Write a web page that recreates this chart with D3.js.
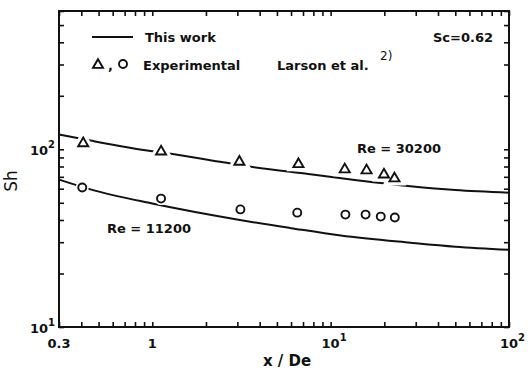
<!DOCTYPE html>
<html>
<head>
<meta charset="utf-8">
<script src="https://cdn.jsdelivr.net/npm/d3@7"></script>
<style>
  body { margin: 0; background: #fff; }
  svg text { font-family: "DejaVu Sans", sans-serif; font-weight: bold; fill: #111; }
  .tick text { display: none; }
</style>
</head>
<body>
<div id="chart"></div>
<script>
// Sh vs x/De, Sc = 0.62

// calculated curves ("This work")
var curveHighX  = [0.3, 0.45, 1, 1.3, 2.5, 3.5, 7.5, 14, 28, 50, 100];
var curveHighSh = [121, 112, 97.5, 94, 84.5, 80, 72.5, 67, 62, 59, 57];
var curveLowX   = [0.3, 0.45, 1, 3.1, 6, 11.4, 28, 50, 100];
var curveLowSh  = [67.5, 59.5, 49.5, 40, 36, 32.7, 29.8, 28.3, 27.2];

// experimental points, Larson et al.
var expHighX  = [0.41, 1.12, 3.08, 6.6, 12.0, 15.9, 19.9, 22.8];
var expHighSh = [108, 97, 85, 82.4, 77, 76, 72, 68.5];
var expLowX   = [0.405, 1.12, 3.12, 6.5, 12.1, 15.7, 19.1, 22.9];
var expLowSh  = [61, 52.8, 45.9, 44.0, 42.9, 42.9, 41.8, 41.3];

// tick labels
var xLabelValues = [0.3, 1, 10, 100];
var xLabelBase   = ["0.3", "1", "10", "10"];
var xLabelSup    = ["", "", "1", "2"];
var yLabelValues = [10, 100];
var yLabelBase   = ["10", "10"];
var yLabelSup    = ["1", "2"];

var width = 528,
    height = 382,
    margin = {top: 11, right: 19, bottom: 55, left: 59},
    chartWidth = width - margin.left - margin.right,
    chartHeight = height - margin.top - margin.bottom;

var svg = d3.select("#chart").append("svg")
    .attr("width", width)
    .attr("height", height);

var chart = svg.append("g")
    .attr("transform", "translate(" + margin.left + "," + margin.top + ")");

var x = d3.scaleLog()
    .domain([0.3, 100])
    .range([0, chartWidth]);

var y = d3.scaleLog()
    .domain([10, 600])
    .range([chartHeight, 0]);

function zip(xs, ys){
  return xs.map(function(d, i){ return {x: d, y: ys[i]}; });
}

// axes: ticks point inward on all four sides
function styleAxis(g){
  g.select(".domain").remove();
  g.selectAll("line").attr("stroke", "#111").attr("stroke-width", 1.6);
}

chart.append("g")
    .attr("transform", "translate(0," + chartHeight + ")")
    .call(d3.axisBottom(x).tickSizeInner(-5).tickSizeOuter(0))
    .call(styleAxis);

chart.append("g")
    .call(d3.axisTop(x).tickSizeInner(-5).tickSizeOuter(0))
    .call(styleAxis);

chart.append("g")
    .call(d3.axisLeft(y).tickSizeInner(-5).tickSizeOuter(0))
    .call(styleAxis);

chart.append("g")
    .attr("transform", "translate(" + chartWidth + ",0)")
    .call(d3.axisRight(y).tickSizeInner(-5).tickSizeOuter(0))
    .call(styleAxis);

chart.append("rect")
    .attr("width", chartWidth)
    .attr("height", chartHeight)
    .attr("fill", "none")
    .attr("stroke", "#111")
    .attr("stroke-width", 2);

// curves
var line = d3.line()
    .x(function(d){ return x(d.x); })
    .y(function(d){ return y(d.y); })
    .curve(d3.curveMonotoneX);

[zip(curveHighX, curveHighSh), zip(curveLowX, curveLowSh)].forEach(function(c){
  chart.append("path")
      .attr("d", line(c))
      .attr("fill", "none")
      .attr("stroke", "#111")
      .attr("stroke-width", 2);
});

// markers, with a white halo so the curve is broken where they sit on it
var tri = d3.symbol().type(d3.symbolTriangle).size(44);

function drawTriangles(pts){
  var g = chart.append("g");
  g.selectAll("path.halo").data(pts).enter().append("path")
      .attr("class", "halo")
      .attr("d", tri)
      .attr("transform", function(d){ return "translate(" + x(d.x) + "," + y(d.y) + ")"; })
      .attr("fill", "#fff").attr("stroke", "#fff").attr("stroke-width", 8);
  g.selectAll("path.mark").data(pts).enter().append("path")
      .attr("class", "mark")
      .attr("d", tri)
      .attr("transform", function(d){ return "translate(" + x(d.x) + "," + y(d.y) + ")"; })
      .attr("fill", "#fff").attr("stroke", "#111").attr("stroke-width", 1.9);
}

function drawCircles(pts){
  var g = chart.append("g");
  g.selectAll("circle.halo").data(pts).enter().append("circle")
      .attr("class", "halo")
      .attr("cx", function(d){ return x(d.x); })
      .attr("cy", function(d){ return y(d.y); })
      .attr("r", 4)
      .attr("fill", "#fff").attr("stroke", "#fff").attr("stroke-width", 5);
  g.selectAll("circle.mark").data(pts).enter().append("circle")
      .attr("class", "mark")
      .attr("cx", function(d){ return x(d.x); })
      .attr("cy", function(d){ return y(d.y); })
      .attr("r", 4)
      .attr("fill", "#fff").attr("stroke", "#111").attr("stroke-width", 1.9);
}

drawTriangles(zip(expHighX, expHighSh));
drawCircles(zip(expLowX, expLowSh));

// tick labels
xLabelValues.forEach(function(v, i){
  svg.append("text")
      .attr("x", margin.left + x(v))
      .attr("y", margin.top + chartHeight + 21)
      .attr("text-anchor", "middle")
      .attr("font-size", 13)
      .text(xLabelBase[i]);
  if(xLabelSup[i]){
    svg.append("text")
        .attr("x", margin.left + x(v) + 9)
        .attr("y", margin.top + chartHeight + 14)
        .attr("font-size", 10)
        .text(xLabelSup[i]);
  }
});

yLabelValues.forEach(function(v, i){
  svg.append("text")
      .attr("x", 48)
      .attr("y", margin.top + y(v) + 6)
      .attr("text-anchor", "end")
      .attr("font-size", 13)
      .text(yLabelBase[i]);
  svg.append("text")
      .attr("x", 48)
      .attr("y", margin.top + y(v) - 1)
      .attr("font-size", 10)
      .text(yLabelSup[i]);
});

// axis titles
svg.append("text")
    .attr("x", 287)
    .attr("y", 366)
    .attr("text-anchor", "middle")
    .attr("font-size", 15)
    .text("x / De");

svg.append("text")
    .attr("transform", "translate(17,181) rotate(-90)")
    .attr("text-anchor", "middle")
    .attr("font-size", 17)
    .style("font-weight", "normal")
    .text("Sh");

// legend
svg.append("line")
    .attr("x1", 92).attr("x2", 133)
    .attr("y1", 37).attr("y2", 37)
    .attr("stroke", "#111").attr("stroke-width", 2);

svg.append("text").attr("x", 145).attr("y", 42).attr("font-size", 13).text("This work");

svg.append("path")
    .attr("d", tri)
    .attr("transform", "translate(98,65)")
    .attr("fill", "#fff").attr("stroke", "#111").attr("stroke-width", 1.9);
svg.append("text").attr("x", 108).attr("y", 70).attr("font-size", 13).text(",");
svg.append("circle")
    .attr("cx", 123).attr("cy", 64).attr("r", 4)
    .attr("fill", "#fff").attr("stroke", "#111").attr("stroke-width", 1.9);

svg.append("text").attr("x", 143).attr("y", 70).attr("font-size", 13).text("Experimental");
svg.append("text").attr("x", 277).attr("y", 70).attr("font-size", 13).text("Larson et al.");
svg.append("text").attr("x", 380).attr("y", 60).attr("font-size", 12).style("font-weight", "normal").text("2)");

svg.append("text")
    .attr("x", 493).attr("y", 42)
    .attr("text-anchor", "end")
    .attr("font-size", 13)
    .text("Sc=0.62");

// curve labels
svg.append("text").attr("x", 357).attr("y", 153).attr("font-size", 13).text("Re = 30200");
svg.append("text").attr("x", 107).attr("y", 233).attr("font-size", 13).text("Re = 11200");
</script>
</body>
</html>
